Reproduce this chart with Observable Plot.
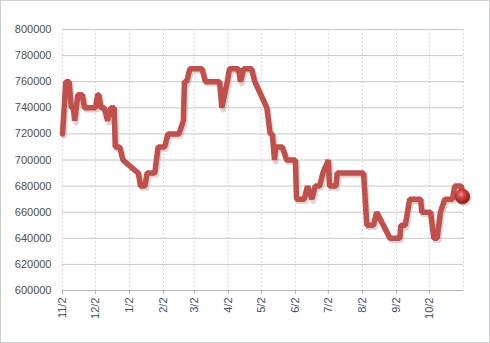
<!DOCTYPE html>
<html><head><meta charset="utf-8">
<script src="https://cdn.jsdelivr.net/npm/d3@7"></script>
<script src="https://cdn.jsdelivr.net/npm/@observablehq/plot@0.6"></script>
<style>
html,body{margin:0;padding:0;background:#fff;}
#chart{position:relative;width:490px;height:343px;}
#chart svg{display:block;}
#frame{position:absolute;left:0;top:0;width:488px;height:341px;border:1px solid #c9cfc9;pointer-events:none;}
</style></head><body><div id="chart"><div id="frame"></div></div>
<script>
const dates = ["2012-11-02","2012-11-05","2012-11-08","2012-11-10","2012-11-12","2012-11-13","2012-11-16","2012-11-20","2012-11-22","2012-12-02","2012-12-04","2012-12-05","2012-12-07","2012-12-10","2012-12-13","2012-12-16","2012-12-19","2012-12-20","2012-12-24","2012-12-27","2013-01-10","2013-01-12","2013-01-16","2013-01-18","2013-01-25","2013-01-28","2013-02-03","2013-02-06","2013-02-16","2013-02-20","2013-02-21","2013-02-23","2013-02-26","2013-03-09","2013-03-12","2013-03-25","2013-03-27","2013-04-01","2013-04-03","2013-04-11","2013-04-13","2013-04-16","2013-04-23","2013-04-26","2013-05-07","2013-05-10","2013-05-12","2013-05-14","2013-05-15","2013-05-21","2013-05-25","2013-06-02","2013-06-03","2013-06-10","2013-06-13","2013-06-17","2013-06-20","2013-06-24","2013-06-27","2013-07-02","2013-07-03","2013-07-09","2013-07-10","2013-08-03","2013-08-06","2013-08-12","2013-08-15","2013-08-21","2013-08-27","2013-09-05","2013-09-06","2013-09-10","2013-09-12","2013-09-14","2013-09-24","2013-09-25","2013-10-03","2013-10-06","2013-10-09","2013-10-12","2013-10-16","2013-10-23","2013-10-25","2013-10-31","2013-11-01"];
const values = [720000,760000,760000,740000,740000,730000,750000,750000,740000,740000,750000,750000,740000,740000,730000,740000,740000,710000,710000,700000,690000,680000,680000,690000,690000,710000,710000,720000,720000,730000,760000,760000,770000,770000,760000,760000,740000,760000,770000,770000,760000,770000,770000,760000,740000,720000,720000,700000,710000,710000,700000,700000,670000,670000,680000,670000,680000,680000,690000,700000,680000,680000,690000,690000,650000,650000,660000,650000,640000,640000,650000,650000,660000,670000,670000,660000,660000,640000,640000,660000,670000,670000,680000,680000,672000];
const yTicks = [600000,620000,640000,660000,680000,700000,720000,740000,760000,780000,800000];
const monthTicks = ["2012-11-02","2012-12-02","2013-01-02","2013-02-02","2013-03-02","2013-04-02","2013-05-02","2013-06-02","2013-07-02","2013-08-02","2013-09-02","2013-10-02"];
const domainEnd = "2013-11-02";

const data = dates.map((d, i) => ({date: new Date(d), value: values[i]}));
const mTicks = monthTicks.map(d => new Date(d));
const gridTicks = [...mTicks, new Date(domainEnd)];
const last = data[data.length - 1];

const chart = Plot.plot({
  width: 490,
  height: 343,
  marginLeft: 62,
  marginRight: 27,
  marginTop: 29,
  marginBottom: 53,
  style: {fontFamily: "'Liberation Sans', Arial, sans-serif", fontSize: "11px", background: "transparent"},
  x: {type: "utc", domain: [mTicks[0], new Date(domainEnd)]},
  y: {domain: [600000, 800000]},
  marks: [
    Plot.gridY(yTicks, {stroke: "#c8c8c8", strokeOpacity: 1}),
    Plot.gridX(gridTicks, {stroke: "#e8cce8", strokeOpacity: 1, strokeDasharray: "2,2"}),
    Plot.ruleY([600000], {stroke: "#b8b8b8"}),
    Plot.axisY(yTicks, {tickSize: 0, tickPadding: 11, tickFormat: d3.format("d"), fill: "#44505f", label: null}),
    Plot.axisX(mTicks, {tickSize: 4, tickPadding: 3, tickRotate: -90, tickFormat: d3.utcFormat("%-m/%-d"), fill: "#44505f", stroke: "#b8b8b8", label: null}),
    Plot.line(data, {x: "date", y: "value", stroke: "#bbbbbb", strokeOpacity: 0.6, strokeWidth: 5.5, dx: 1.5, dy: 2}),
    Plot.line(data, {x: "date", y: "value", stroke: "#c24f4a", strokeWidth: 5.5, strokeLinejoin: "miter"}),
    Plot.dot([last], {x: "date", y: "value", r: 7.5, fill: "#aaaaaa", fillOpacity: 0.5, dx: 1.5, dy: 2}),
    Plot.dot([last], {x: "date", y: "value", r: 7.5, fill: "url(#ballgrad)", stroke: "#9e2a28", strokeWidth: 0.5})
  ]
});

const svg = d3.select(chart);
const defs = svg.insert("defs", ":first-child");
const g = defs.append("radialGradient").attr("id", "ballgrad").attr("cx", "40%").attr("cy", "35%").attr("r", "65%");
g.append("stop").attr("offset", "0%").attr("stop-color", "#f08a86");
g.append("stop").attr("offset", "45%").attr("stop-color", "#cc3b36");
g.append("stop").attr("offset", "100%").attr("stop-color", "#8e1c1a");

document.getElementById("chart").prepend(chart);
</script>
</body></html>
